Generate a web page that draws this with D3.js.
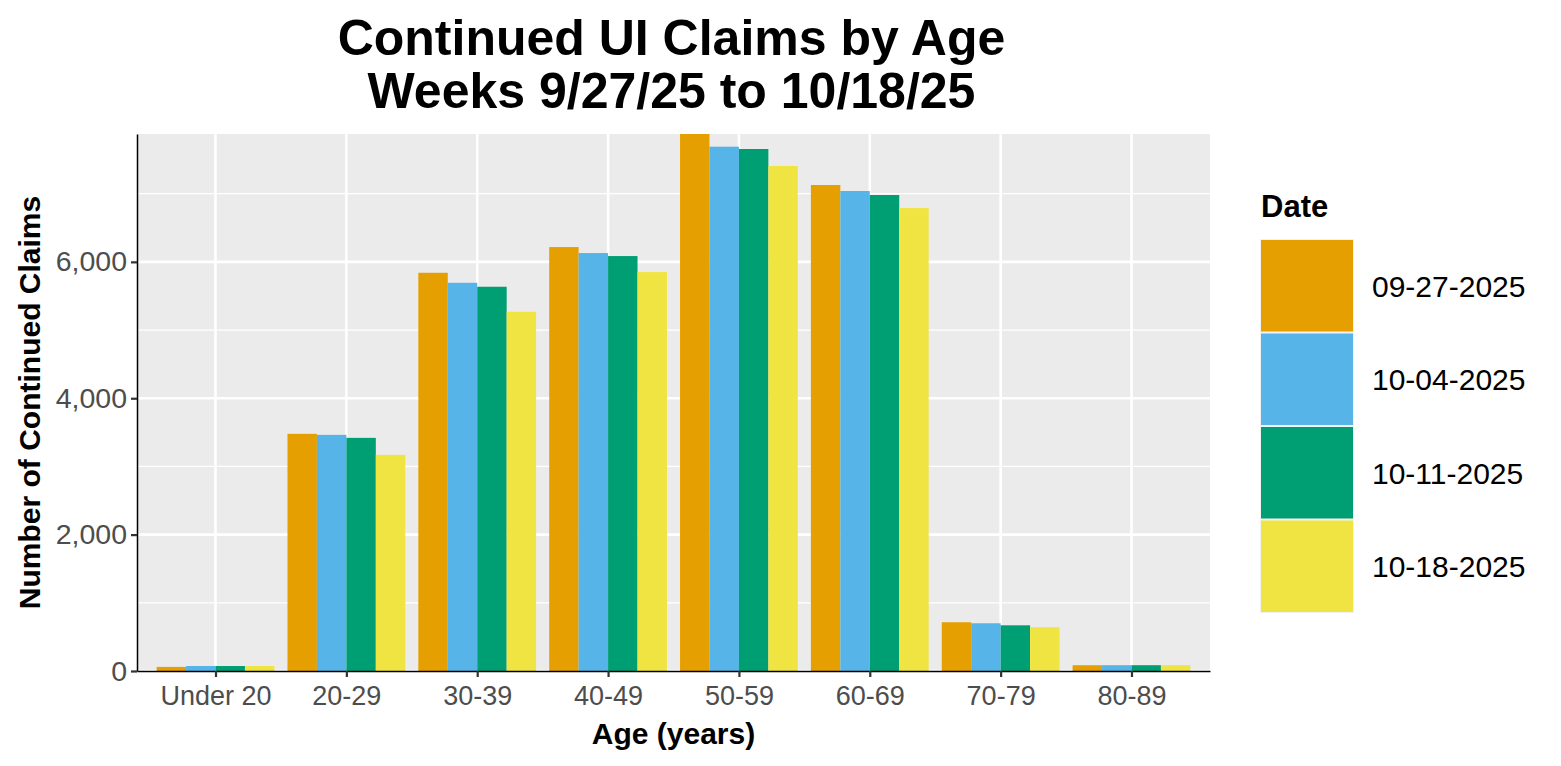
<!DOCTYPE html>
<html>
<head>
<meta charset="utf-8">
<script src="https://cdn.jsdelivr.net/npm/d3@7"></script>
<style>
  body { margin: 0; background: #fff; }
  text { font-family: 'Liberation Sans', Arial, sans-serif; }
</style>
</head>
<body>
<svg id="chart"></svg>
<script>
(function() {

  // age groups on the x axis
  const ages = ['Under 20', '20-29', '30-39', '40-49', '50-59', '60-69', '70-79', '80-89'];

  // one entry per weekly series
  const dates = ['09-27-2025', '10-04-2025', '10-11-2025', '10-18-2025'];
  const colors = ['#E69F00', '#56B4E9', '#009E73', '#F0E442'];

  // continued claims per age group
  const claims0927 = [60, 3478, 5840, 6217, 7875, 7127, 715, 85];
  const claims1004 = [73, 3463, 5693, 6129, 7689, 7039, 700, 85];
  const claims1011 = [73, 3419, 5635, 6085, 7655, 6980, 670, 85];
  const claims1018 = [73, 3170, 5268, 5850, 7406, 6789, 641, 85];

  const yTicks = [0, 2000, 4000, 6000];
  const yMinorTicks = [1000, 3000, 5000, 7000];

  const titleLines = ['Continued UI Claims by Age', 'Weeks 9/27/25 to 10/18/25'];

  const seriesValues = [claims0927, claims1004, claims1011, claims1018];
  const rows = [];
  ages.forEach(function(age, i) {
    dates.forEach(function(date, j) {
      rows.push({ age: age, date: date, value: seriesValues[j][i] });
    });
  });

  const width = 1561;
  const height = 766;
  const panel = { left: 137, right: 1210, top: 134, bottom: 671 };

  const svg = d3.select('#chart')
    .attr('width', width)
    .attr('height', height);

  const x = d3.scalePoint()
    .domain(ages)
    .range([panel.left, panel.right])
    .padding(0.6);

  const groupWidth = x.step() * 0.9;
  const xInner = d3.scaleBand()
    .domain(dates)
    .range([-groupWidth / 2, groupWidth / 2]);

  const y = d3.scaleLinear()
    .domain([0, d3.max(rows, function(d) { return d.value; })])
    .range([panel.bottom, panel.top]);

  const color = d3.scaleOrdinal().domain(dates).range(colors);

  // panel background and grid
  svg.append('rect')
    .attr('x', panel.left)
    .attr('y', panel.top)
    .attr('width', panel.right - panel.left)
    .attr('height', panel.bottom - panel.top)
    .attr('fill', '#EBEBEB');

  const grid = svg.append('g').attr('class', 'grid');

  grid.selectAll('line.minor')
    .data(yMinorTicks)
    .enter()
    .append('line')
    .attr('class', 'minor')
    .attr('x1', panel.left)
    .attr('x2', panel.right)
    .attr('y1', function(d) { return y(d); })
    .attr('y2', function(d) { return y(d); })
    .attr('stroke', '#fff')
    .attr('stroke-width', 1.3);

  grid.selectAll('line.major-y')
    .data(yTicks)
    .enter()
    .append('line')
    .attr('class', 'major-y')
    .attr('x1', panel.left)
    .attr('x2', panel.right)
    .attr('y1', function(d) { return y(d); })
    .attr('y2', function(d) { return y(d); })
    .attr('stroke', '#fff')
    .attr('stroke-width', 2.6);

  grid.selectAll('line.major-x')
    .data(ages)
    .enter()
    .append('line')
    .attr('class', 'major-x')
    .attr('x1', function(d) { return x(d); })
    .attr('x2', function(d) { return x(d); })
    .attr('y1', panel.top)
    .attr('y2', panel.bottom)
    .attr('stroke', '#fff')
    .attr('stroke-width', 2.6);

  // bars
  svg.append('g').attr('class', 'bars')
    .selectAll('rect')
    .data(rows)
    .enter()
    .append('rect')
    .attr('x', function(d) { return x(d.age) + xInner(d.date); })
    .attr('width', xInner.bandwidth())
    .attr('y', function(d) { return y(d.value); })
    .attr('height', function(d) { return y(0) - y(d.value); })
    .attr('fill', function(d) { return color(d.date); });

  // axes
  const xAxis = svg.append('g')
    .attr('class', 'x-axis')
    .attr('transform', 'translate(0,' + panel.bottom + ')')
    .call(d3.axisBottom(x).tickSizeInner(6).tickSizeOuter(0).tickPadding(9));

  const yAxis = svg.append('g')
    .attr('class', 'y-axis')
    .attr('transform', 'translate(' + panel.left + ',0)')
    .call(d3.axisLeft(y).tickValues(yTicks).tickFormat(d3.format(','))
      .tickSizeInner(6).tickSizeOuter(0).tickPadding(4));

  [xAxis, yAxis].forEach(function(axis) {
    axis.select('.domain').attr('stroke', '#000').attr('stroke-width', 1.5);
    axis.selectAll('.tick line').attr('stroke', '#333').attr('stroke-width', 2.2);
    axis.selectAll('.tick text')
      .attr('fill', '#4D4D4D')
      .style('font-family', "'Liberation Sans', Arial, sans-serif");
  });
  xAxis.selectAll('.tick text').style('font-size', '27px');
  yAxis.selectAll('.tick text').style('font-size', '28.5px');

  // titles
  svg.append('g').attr('class', 'title-group')
    .selectAll('text')
    .data(titleLines)
    .enter()
    .append('text')
    .attr('x', (panel.left + panel.right) / 2 - 2)
    .attr('y', function(d, i) { return 55 + i * 53; })
    .attr('text-anchor', 'middle')
    .style('font-size', '50px')
    .style('font-weight', 'bold')
    .text(function(d) { return d; });

  svg.append('text')
    .attr('x', (panel.left + panel.right) / 2)
    .attr('y', 744)
    .attr('text-anchor', 'middle')
    .style('font-size', '30px')
    .style('font-weight', 'bold')
    .text('Age (years)');

  svg.append('text')
    .attr('transform', 'translate(40,' + ((panel.top + panel.bottom) / 2) + ') rotate(-90)')
    .attr('text-anchor', 'middle')
    .style('font-size', '30px')
    .style('font-weight', 'bold')
    .text('Number of Continued Claims');

  // legend
  const keySize = { w: 94, h: 93.5 };
  const legend = svg.append('g').attr('class', 'legend')
    .attr('transform', 'translate(1260,239)');

  legend.append('text')
    .attr('x', 1)
    .attr('y', -22)
    .style('font-size', '31px')
    .style('font-weight', 'bold')
    .text('Date');

  const legendItem = legend.selectAll('g.item')
    .data(dates)
    .enter()
    .append('g')
    .attr('class', 'item')
    .attr('transform', function(d, i) { return 'translate(0,' + (i * keySize.h) + ')'; });

  legendItem.append('rect')
    .attr('width', keySize.w)
    .attr('height', keySize.h)
    .attr('fill', '#F2F2F2');

  legendItem.append('rect')
    .attr('x', 1)
    .attr('y', 1)
    .attr('width', keySize.w - 2)
    .attr('height', keySize.h - 2)
    .attr('fill', function(d) { return color(d); });

  legendItem.append('text')
    .attr('x', 112)
    .attr('y', keySize.h / 2)
    .attr('dy', '0.36em')
    .style('font-size', '30px')
    .text(function(d) { return d; });
})();
</script>
</body>
</html>
